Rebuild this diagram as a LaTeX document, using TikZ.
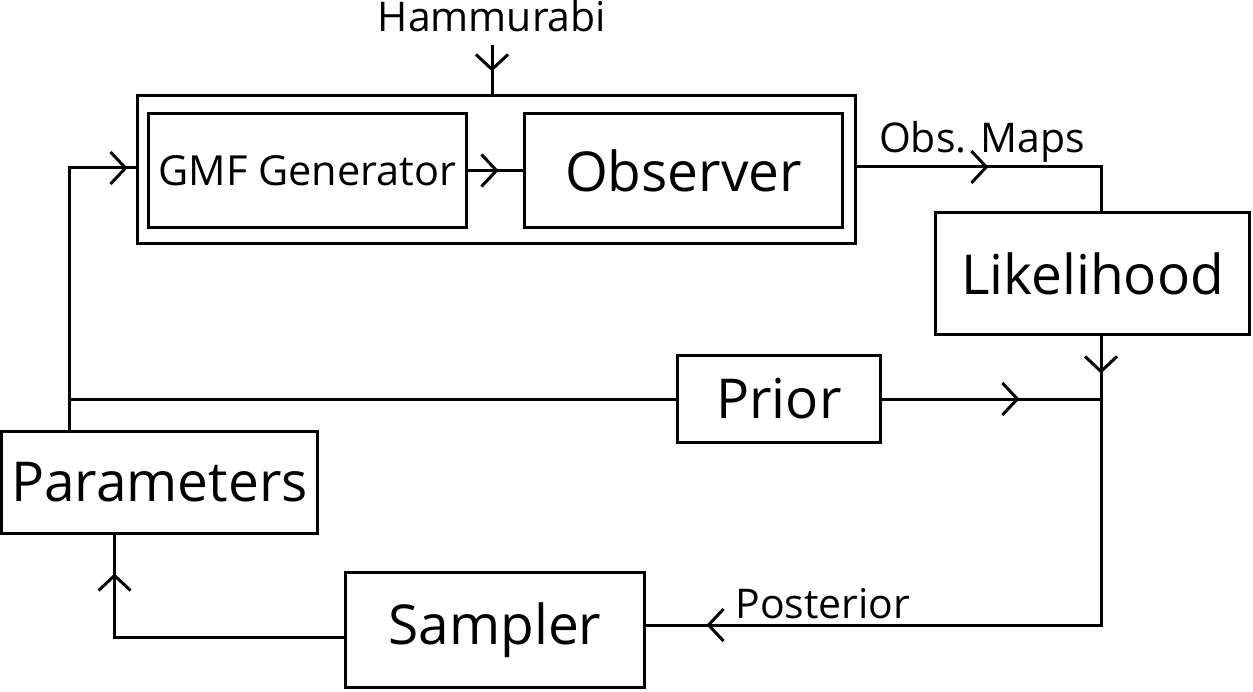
\documentclass[tikz,border=0pt]{standalone}
\usepackage{fontspec}
\setmainfont{Open Sans}
\usepackage{tikz}
\usetikzlibrary{arrows.meta,decorations.markings,positioning}

\begin{document}
\begin{tikzpicture}[x = 0.02cm, y = -0.02cm, line width = 0.06cm]
	\tikzstyle{box} = [draw = black, inner sep = 0pt, font = \fontsize{31.3}{36}\selectfont]
	\tikzstyle{lbl} = [inner sep = 0pt, anchor = base, font = \fontsize{23.3}{28}\selectfont]
	\tikzset{mid/.style = {postaction = {decorate, decoration = {markings,
		mark = at position #1 with {\arrow{Straight Barb[length = 0.3cm, width = 0.64cm]}}}}}}
\useasboundingbox (0, 0) rectangle (1253, 692);

\node[box, minimum width = 14.38cm, minimum height = 2.98cm] (outer) at (496.5, 169.5) {};
\node[box, minimum width = 6.38cm, minimum height = 2.3cm, font = \fontsize{23.6}{28}\selectfont] (gen) at (307.5, 170.5) {GMF Generator};
\node[box, minimum width = 6.38cm, minimum height = 2.3cm] (obs) at (683.5, 170.5) {Observer};
\node[box, minimum width = 6.3cm, minimum height = 2.46cm] (lik) at (1092.5, 273.5) {Likelihood};
\node[box, minimum width = 4.08cm, minimum height = 1.76cm] (prior) at (779, 399) {Prior};
\node[box, minimum width = 6.34cm, minimum height = 2.06cm] (par) at (159.5, 482.5) {Parameters};
\node[box, minimum width = 6cm, minimum height = 2.32cm] (sam) at (495, 630) {Sampler};

\node[lbl] (ham) at (492, 32) {Hammurabi};
\node[lbl] (maps) at (982, 153) {Obs. Maps};
\node[lbl] (post) at (823, 618) {Posterior};

\coordinate (bus) at (1101, 399);
\coordinate (split) at (69, 399);
\coordinate (samin) at ([yshift = 0.1cm]sam.east);

	\path[draw, mid = -0.44cm, shorten < = 0.22cm] (ham.south) -- (ham.south |- outer.north);
	\path[draw, mid = -0.48cm] (gen) -- (obs);
	\path[draw, mid = 2.62cm] ([yshift = 0.05cm]outer.east) -| (lik.north -| bus);
	\path[draw, mid = 0.74cm, mid = -1.2cm] (lik.south -| bus) -- (bus |- samin) -- (samin);
	\path[draw, mid = 2.74cm] (prior) -- (bus);
	\path[draw, mid = -0.16cm] (par.north -| split) -- (split) |- ([yshift = 0.03cm]outer.west);
	\path[draw] (split) -- (prior);
	\path[draw, mid = -0.76cm] ([yshift = -0.14cm]sam.west) -| ([xshift = -0.9cm]par.south);
\end{tikzpicture}
\end{document}
